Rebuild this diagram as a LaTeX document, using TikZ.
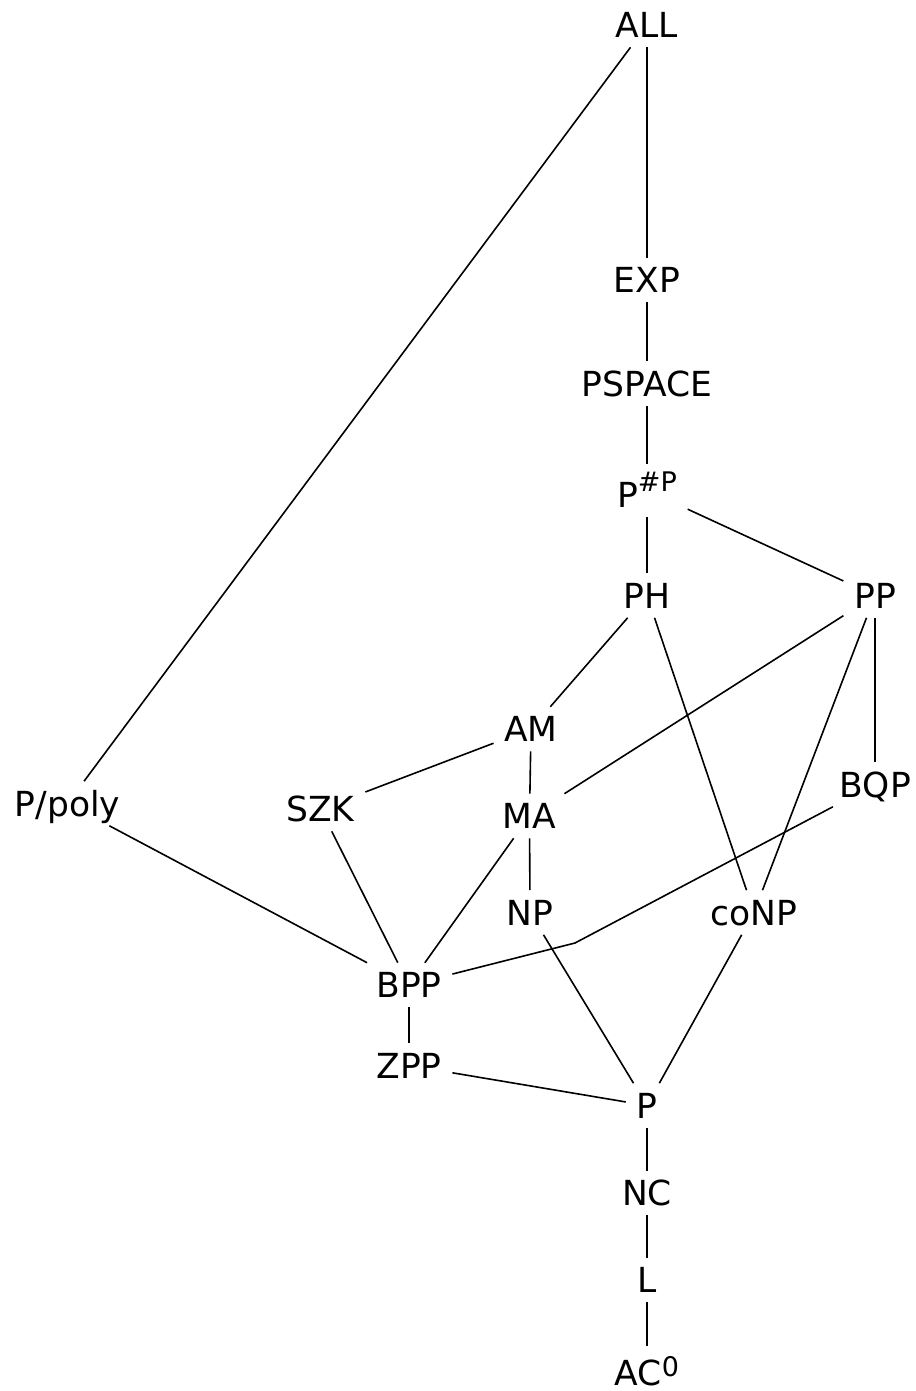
\documentclass[tikz,border=0pt]{standalone}
\usepackage{fontspec}
\setmainfont{DejaVu Sans}
\tikzset{cls/.style={inner xsep=10pt, inner ysep=9pt, text height=25pt, text depth=0pt,
    font=\fontsize{34.5}{40}\selectfont}}
\newcommand{\supr}[2]{\raisebox{#1}{\fontsize{27}{27}\selectfont #2}}
\begin{document}
\begin{tikzpicture}[x=1pt, y=-1pt, line width=1.6pt, line cap=butt]
            \useasboundingbox (0, 0) rectangle (915, 1391);
            % classes
            \node[cls] (all) at (647, 25) {ALL};
            \node[cls] (exp) at (647, 280) {EXP};
            \node[cls] (pspace) at (647, 383.5) {PSPACE};
            \node[cls, text height=33pt] (psp) at (647, 490.5) {P\supr{16pt}{\#P}};
            \node[cls] (ph) at (647, 595.5) {PH};
            \node[cls] (pp) at (875, 595.5) {PP};
            \node[cls] (am) at (531, 729) {AM};
            \node[cls] (szk) at (320.5, 809) {SZK};
            \node[cls] (ma) at (529.5, 816) {MA};
            \node[cls] (ppoly) at (67.5, 803.5) {P/poly};
            \node[cls] (bqp) at (875, 784.5) {BQP};
            \node[cls] (np) at (530, 912.5) {NP};
            \node[cls] (conp) at (754, 912.5) {coNP};
            \node[cls] (bpp) at (409, 985) {BPP};
            \node[cls] (zpp) at (409, 1065.5) {ZPP};
            \node[cls] (p) at (647, 1105.5) {P};
            \node[cls] (nc) at (647, 1193) {NC};
            \node[cls] (l) at (647, 1280) {L};
            \node[cls, inner ysep=5pt] (aczero) at (647, 1372.5) {AC\supr{9pt}{0}};
            \coordinate (bend) at (575, 943);
            % inclusions
            \draw (all)--(exp);
            \draw (all)--(ppoly);
            \draw (exp)--(pspace);
            \draw (pspace)--(psp);
            \draw (psp)--(ph);
            \draw (psp)--(pp);
            \draw (ph)--(am);
            \draw (ph)--(conp);
            \draw (pp)--(ma);
            \draw (pp)--(conp);
            \draw (pp)--(bqp);
            \draw (am)--(szk);
            \draw (am)--(ma);
            \draw (ma)--(np);
            \draw (ma)--(bpp);
            \draw (szk)--(bpp);
            \draw (ppoly)--(bpp);
            \draw (bqp)--(bend)--(bpp);
            \draw (np)--(p);
            \draw (conp)--(p);
            \draw (bpp)--(zpp);
            \draw (zpp)--(p);
            \draw (p)--(nc);
            \draw (nc)--(l);
            \draw (l)--([yshift=8pt]aczero.north);
        \end{tikzpicture}
\end{document}
